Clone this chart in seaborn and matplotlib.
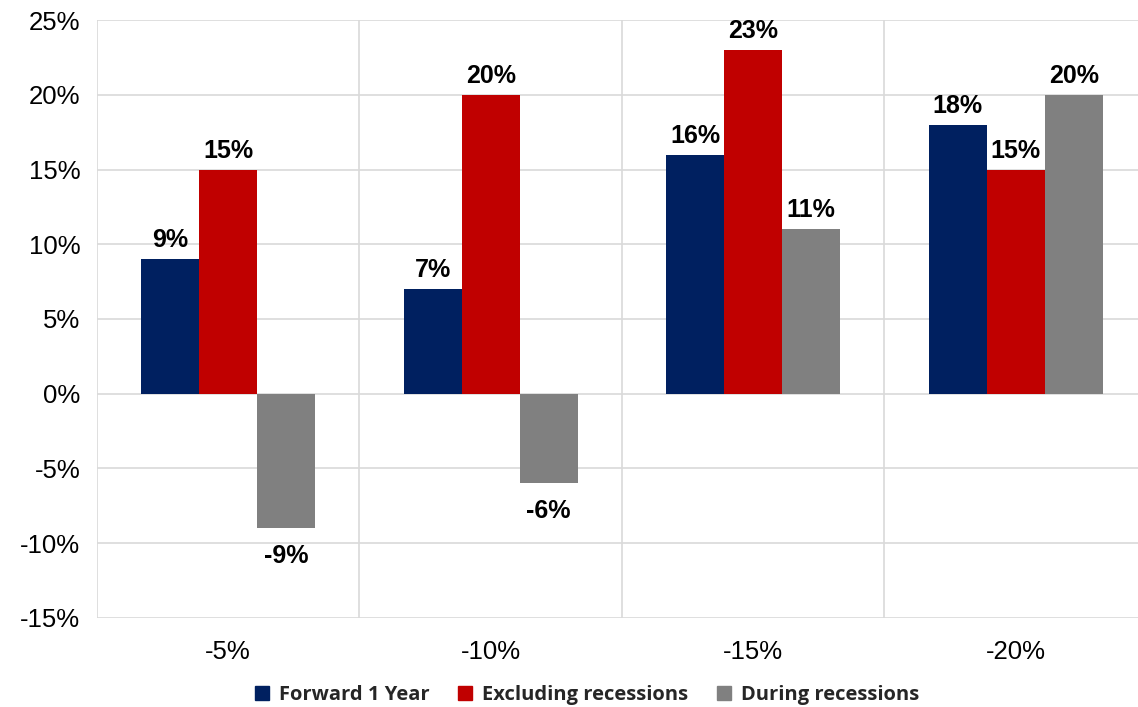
import matplotlib.pyplot as plt
import pandas as pd
import seaborn as sns
from matplotlib.ticker import FuncFormatter

sns.set_theme(style="white")
plt.rcParams['font.family'] = ['Liberation Sans', 'DejaVu Sans']

categories = ["-5%", "-10%", "-15%", "-20%"]
forward_1y = [9, 7, 16, 18]
excl_recessions = [15, 20, 23, 15]
during_recessions = [-9, -6, 11, 20]
series_names = ["Forward 1 Year", "Excluding recessions", "During recessions"]
colors = ["#002060", "#C00000", "#808080"]

df = pd.DataFrame({
    'Drawdown': categories,
    series_names[0]: forward_1y,
    series_names[1]: excl_recessions,
    series_names[2]: during_recessions,
})
df_melted = df.melt(id_vars='Drawdown', var_name='Series', value_name='Return')

fig = plt.figure(figsize=(11.38, 7.07), dpi=100)
ax = fig.add_axes([0.0852, 0.1259, 0.9227, 0.8458])

sns.barplot(data=df_melted, x='Drawdown', y='Return', hue='Series',
            palette=colors, width=0.663, gap=0, saturation=1, linewidth=0,
            order=categories, hue_order=series_names, ax=ax, legend=False)

for cont in ax.containers:
    labels = ax.bar_label(cont, fmt='{:.0f}%', padding=5, fontsize=18,
                          fontweight='bold', color='black')
    # negative labels sit a bit further below the bar in the original
    for bar, lab in zip(cont, labels):
        if bar.get_height() < 0:
            x, y = lab.xyann
            lab.xyann = (x, y - 6)

ax.set_ylim(-15, 25)
ax.set_yticks(range(-15, 26, 5))
ax.yaxis.set_major_formatter(FuncFormatter(lambda v, p: f"{v:.0f}%"))
ax.set_xlim(-0.5, 3.5)
ax.set_xticks([-0.5, 0.5, 1.5, 2.5, 3.5], minor=True)
ax.grid(axis='y', which='major', color='#D9D9D9', linewidth=1.2)
ax.grid(axis='x', which='minor', color='#D9D9D9', linewidth=1.2)
ax.set_axisbelow(True)
for s in ax.spines.values():
    s.set_visible(False)

ax.tick_params(axis='both', which='both', length=0, labelsize=18.5, colors='black')
ax.tick_params(axis='x', pad=16)
ax.tick_params(axis='y', pad=12)
ax.set_xlabel('')
ax.set_ylabel('')

handles = [plt.Rectangle((0, 0), 1, 1, color=c) for c in colors]
fig.legend(handles, series_names, loc='center', bbox_to_anchor=(0.516, 0.017),
           ncol=3, frameon=False, handlelength=0.7, handleheight=0.7,
           handletextpad=0.5, columnspacing=1.4,
           prop={'family': 'Open Sans', 'weight': 'bold', 'size': 14.5})

plt.savefig('out.png', dpi=100)
